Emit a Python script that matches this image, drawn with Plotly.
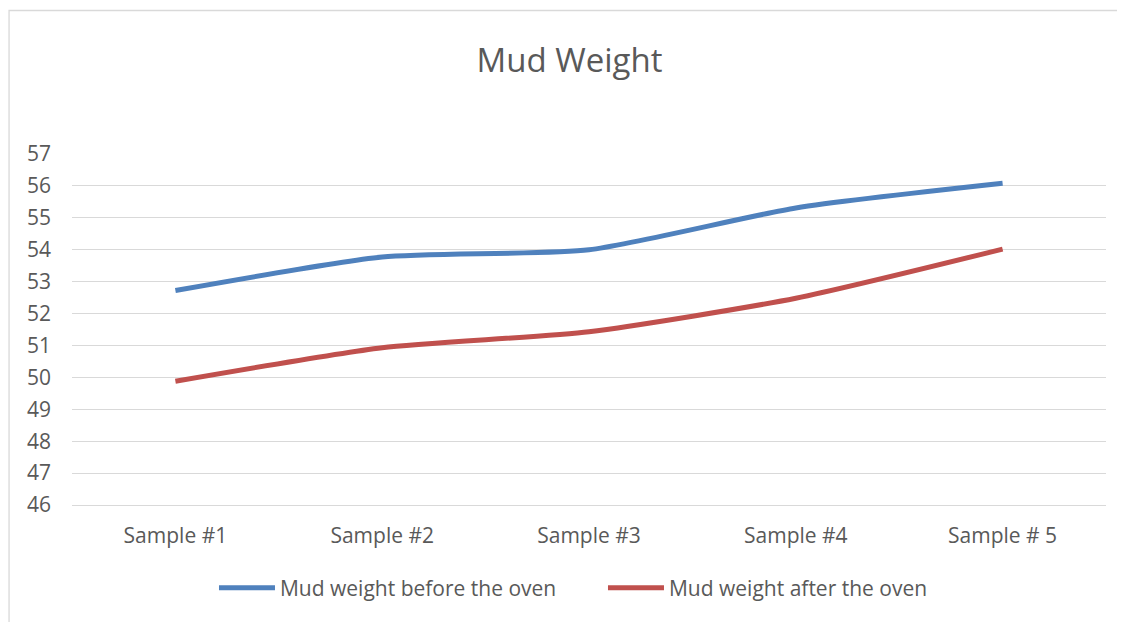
import plotly.graph_objects as go

categories = ["Sample #1", "Sample #2", "Sample #3", "Sample #4", "Sample # 5"]
before_oven = [52.72, 53.77, 54.0, 55.31, 56.08]
after_oven = [49.88, 50.93, 51.43, 52.48, 54.02]
y_ticks = list(range(46, 58))

FONT = "Open Sans"
TXT = "#595959"
GRID = "#D9D9D9"
OFF = 8  # page body margin offset
W, H = 1125 - OFF, 622 - OFF
L, R, T, B = 71.5 - OFF, 18.5, 154 - OFF, 117
pw = W - L - R
ph = H - T - B


def px_x(x):
    return (x - OFF - L) / pw


def px_y(y):
    return ((H - B) - (y - OFF)) / ph


fig = go.Figure()
fig.add_trace(go.Scatter(x=categories, y=before_oven, mode="lines",
                         name="Mud weight before the oven",
                         line=dict(color="#4F81BD", width=5, shape="spline", smoothing=0.6)))
fig.add_trace(go.Scatter(x=categories, y=after_oven, mode="lines",
                         name="Mud weight after the oven",
                         line=dict(color="#C0504D", width=5, shape="spline", smoothing=0.6)))

fig.add_shape(type="rect", xref="paper", yref="paper",
              x0=px_x(8.5), x1=px_x(1160), y0=px_y(660), y1=px_y(10.5),
              line=dict(color=GRID, width=1.3), layer="below")

fig.update_layout(
    width=W, height=H,
    margin=dict(l=L, r=R, t=T, b=B),
    paper_bgcolor="white", plot_bgcolor="white",
    title=dict(text="Mud Weight", x=(569.5 - OFF) / W, xref="container", xanchor="center",
               y=1 - (60 - OFF) / H, yref="container", yanchor="middle",
               font=dict(family=FONT, size=33, color=TXT)),
    font=dict(family=FONT, color=TXT),
    showlegend=True,
    legend=dict(orientation="h", x=px_x(603), xanchor="center", y=px_y(588), yanchor="middle",
                font=dict(family=FONT, size=21, color=TXT), itemwidth=56,
                traceorder="normal", entrywidth=318, bgcolor="rgba(0,0,0,0)"),
    xaxis=dict(range=[-0.5, 4.5], showgrid=False, zeroline=False, showline=True,
               linecolor=GRID, linewidth=1.3,
               ticks="", tickfont=dict(family=FONT, size=21, color=TXT), ticklabelstandoff=12),
    yaxis=dict(range=[46, 57], tickvals=y_ticks, showgrid=True, gridcolor=GRID, gridwidth=1.3,
               zeroline=False, showline=False, ticks="",
               tickfont=dict(family=FONT, size=21, color=TXT), ticklabelstandoff=20),
)

fig.write_html("out.html")
